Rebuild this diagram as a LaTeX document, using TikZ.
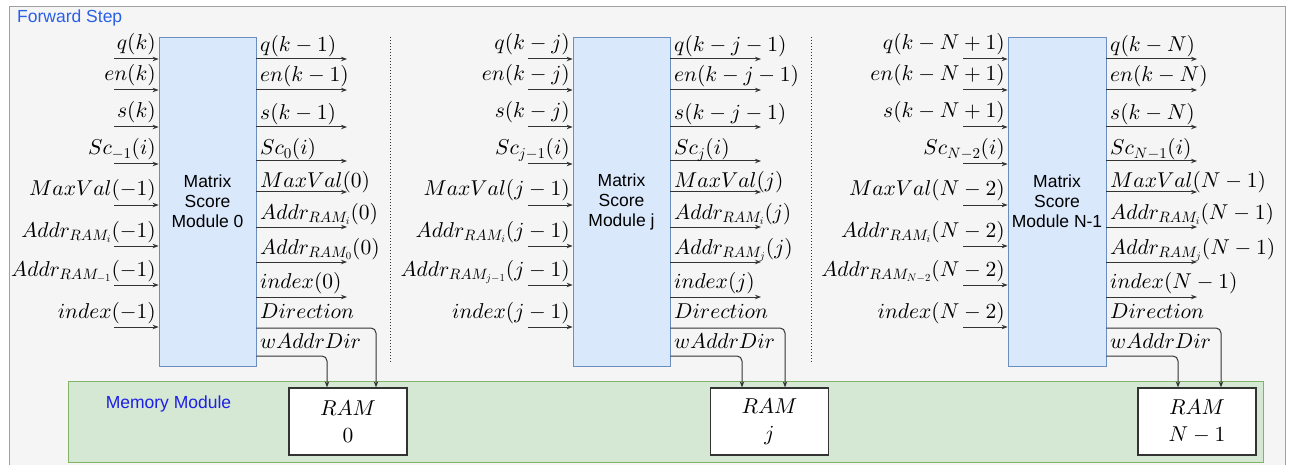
\RequirePackage{fix-cm}
\documentclass[tikz,border=0pt]{standalone}
\usepackage[no-math]{fontspec}
\DeclareFontShape{OT1}{cmr}{m}{n}{<->cmr10}{}
\DeclareFontShape{OML}{cmm}{m}{it}{<->cmmi10}{}
\DeclareFontShape{OMS}{cmsy}{m}{n}{<->cmsy10}{}
\newfontfamily\arialf{Liberation Sans}
\usetikzlibrary{arrows.meta}
\definecolor{frameFill}{HTML}{F5F5F5}
\definecolor{frameLine}{HTML}{A0A0A0}
\definecolor{modFill}{HTML}{DAE8FC}
\definecolor{modLine}{HTML}{6C8EBF}
\definecolor{memFill}{HTML}{D5E8D4}
\definecolor{memLine}{HTML}{82B366}
\definecolor{fwdBlue}{HTML}{2A5FE6}
\definecolor{memBlue}{HTML}{1E1EE6}
\definecolor{lineCol}{HTML}{333333}
\newcommand\mfont{\fontsize{21.5}{26}\selectfont}
\newcommand\inrows[3]{%
 \foreach[count=\i] \yy/\lab in {#3}{
  \coordinate (#1s\i) at (#2-45,\yy);
  \draw[arr] (#1s\i) -- (#1s\i -| #1.west);
  \node[inlab] (#1in\i) at (#2-3,\yy-9) {\lab};
 }}
\newcommand\outrows[3]{%
 \foreach[count=\i] \yy/\dd/\lab in {#3}{
  \coordinate (#1t\i) at (#2+91,\yy);
  \draw[arr] (#1t\i -| #1.east) -- (#1t\i);
  \node[outlab] (#1out\i) at (#2+4,\yy-\dd) {\lab};
 }}
\begin{document}
\begin{tikzpicture}[x=1pt,y=-1pt,
  arr/.style={draw=lineCol,line width=1pt,-{Stealth[length=6pt,width=4.5pt]}},
  inlab/.style={anchor=base east,inner sep=0pt,font=\mfont},
  outlab/.style={anchor=base west,inner sep=0pt,font=\mfont},
  modbox/.style={draw=modLine,fill=modFill,line width=0.8pt,inner sep=0pt,
    align=center,font=\arialf\fontsize{17.5}{20}\selectfont,
    minimum width=97pt,minimum height=329pt},
  rambox/.style={draw=lineCol,fill=white,line width=1.2pt,inner sep=0pt,
    align=center,font=\fontsize{21.5}{27}\selectfont,
    minimum width=118pt,minimum height=67pt},
  sep/.style={draw=lineCol,line width=0.8pt,dash pattern=on 1pt off 2pt}]
\useasboundingbox (0,0) rectangle (1292,465);
\clip (0,0) rectangle (1292,465);
\draw[draw=frameLine,fill=frameFill,line width=1pt] (9,7) rectangle (1285,480);
\node[anchor=base west,inner sep=0pt,text=fwdBlue,font=\arialf\fontsize{17.5}{20}\selectfont] (fwd) at (17,23) {Forward Step};
\draw[draw=memLine,fill=memFill,line width=0.8pt] (68,381) rectangle (1263,462);
\node[anchor=base,inner sep=0pt,text=memBlue,font=\arialf\fontsize{17.5}{20}\selectfont] (mem) at (168.5,408) {Memory Module};

\node[modbox] (m0) at (207.5,201.5) {Matrix\\Score\\Module 0};
\node[modbox] (mj) at (621.5,201.5) {Matrix\\Score\\Module j};
\node[modbox,minimum width=98pt] (mn) at (1057,201.5) {Matrix\\Score\\Module N-1};

\node[rambox] (r0) at (348,421.5) {$RAM$\\$0$};
\node[rambox] (rj) at (769.5,421.5) {$RAM$\\$j$};
\node[rambox] (rn) at (1197,421.5) {$RAM$\\$N-1$};

\coordinate (d1a) at (390.5,37); \coordinate (d1b) at (390.5,362);
\coordinate (d2a) at (811,37); \coordinate (d2b) at (811,362);
\draw[sep] (d1a) -- (d1b);
\draw[sep] (d2a) -- (d2b);

\inrows{m0}{159}{59/{$q(k)$},90/{$en(k)$},127/{$s(k)$},164/{$Sc_{-1}(i)$},205/{$MaxVal(-1)$},246/{$Addr_{RAM_i}(-1)$},285/{$Addr_{RAM_{-1}}(-1)$},327/{$index(-1)$}}
\outrows{m0}{256}{59/7/{$q(k-1)$},90/8/{$en(k-1)$},127/7/{$s(k-1)$},161/6/{$Sc_0(i)$},192/4/{$MaxVal(0)$},227/8/{$Addr_{RAM_i}(0)$},262/8/{$Addr_{RAM_0}(0)$},297/9/{$index(0)$}}

\inrows{mj}{573}{59/{$q(k-j)$},90/{$en(k-j)$},127/{$s(k-j)$},164/{$Sc_{j-1}(i)$},205/{$MaxVal(j-1)$},246/{$Addr_{RAM_i}(j-1)$},285/{$Addr_{RAM_{j-1}}(j-1)$},327/{$index(j-1)$}}
\outrows{mj}{670}{59/7/{$q(k-j-1)$},90/8/{$en(k-j-1)$},127/7/{$s(k-j-1)$},161/6/{$Sc_j(i)$},192/4/{$MaxVal(j)$},227/8/{$Addr_{RAM_i}(j)$},262/8/{$Addr_{RAM_j}(j)$},297/9/{$index(j)$}}

\inrows{mn}{1008}{59/{$q(k-N+1)$},90/{$en(k-N+1)$},127/{$s(k-N+1)$},164/{$Sc_{N-2}(i)$},205/{$MaxVal(N-2)$},246/{$Addr_{RAM_i}(N-2)$},285/{$Addr_{RAM_{N-2}}(N-2)$},327/{$index(N-2)$}}
\outrows{mn}{1106}{59/7/{$q(k-N)$},90/8/{$en(k-N)$},127/7/{$s(k-N)$},161/6/{$Sc_{N-1}(i)$},192/4/{$MaxVal(N-1)$},227/8/{$Addr_{RAM_i}(N-1)$},262/8/{$Addr_{RAM_j}(N-1)$},297/9/{$index(N-1)$}}

% Direction / wAddrDir
\node[outlab] (m0dir) at (260,318) {$Direction$};
\node[outlab] (m0wad) at (260,348) {$wAddrDir$};
\node[outlab] (mjdir) at (674,318) {$Direction$};
\node[outlab] (mjwad) at (674,348) {$wAddrDir$};
\node[outlab] (mndir) at (1110,318) {$Direction$};
\node[outlab] (mnwad) at (1110,348) {$wAddrDir$};

\draw[arr,rounded corners=5pt] (m0.east |- 0,328) -| (r0.north -| 376,0);
\draw[arr,rounded corners=5pt] (m0.east |- 0,356) -| (r0.north -| 327,0);
\draw[arr,rounded corners=5pt] (mj.east |- 0,328) -| (rj.north -| 785,0);
\draw[arr,rounded corners=5pt] (mj.east |- 0,356) -| (rj.north -| 742,0);
\draw[arr,rounded corners=5pt] (mn.east |- 0,328) -| (rn.north -| 1221,0);
\draw[arr,rounded corners=5pt] (mn.east |- 0,356) -| (rn.north -| 1178,0);
\end{tikzpicture}
\end{document}
